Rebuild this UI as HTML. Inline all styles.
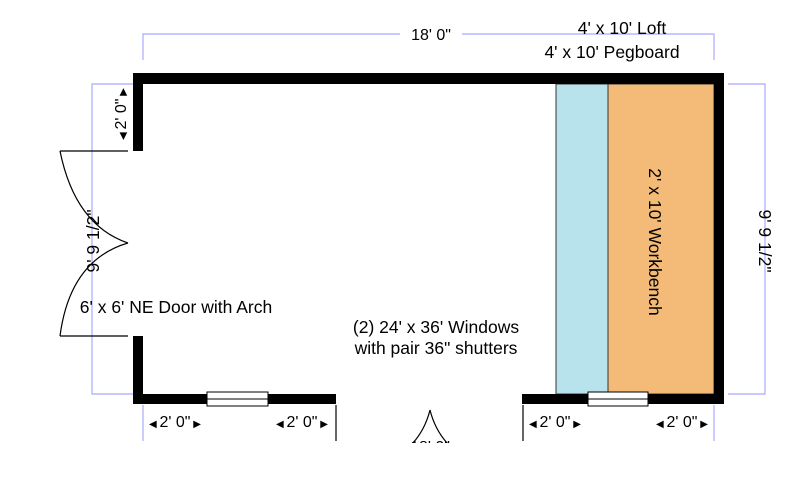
<!DOCTYPE html>
<html><head><style>body{margin:0;background:#fff}svg{display:block}</style></head><body>
<svg width="808" height="478" xmlns="http://www.w3.org/2000/svg" font-family="Liberation Sans, sans-serif" font-size="17.5">
<defs><clipPath id="c"><rect x="0" y="0" width="808" height="443"/></clipPath></defs>
<rect width="808" height="478" fill="#fff"/>
<g stroke="#a9a9ff" stroke-width="1.2" fill="none">
<polyline points="143,60 143,34 714,34 714,60"/>
<polyline points="728,84 765,84 765,394 728,394"/>
<polyline points="133,84 92,84 92,394 133,394"/>
<line x1="143" y1="405" x2="143" y2="441"/>
<line x1="714" y1="405" x2="714" y2="441"/>
</g>
<g stroke="#000" stroke-width="1.2"><line x1="336" y1="405" x2="336" y2="441"/><line x1="523" y1="405" x2="523" y2="441"/></g>
<rect x="400" y="25" width="62" height="18" fill="#fff"/>
<text x="431" y="40" text-anchor="middle" font-size="16">18' 0"</text>
<text x="622" y="34" text-anchor="middle">4' x 10' Loft</text>
<text x="612" y="58" text-anchor="middle">4' x 10' Pegboard</text>
<rect x="556" y="84" width="52" height="310" fill="#b9e3ec" stroke="#333" stroke-width="1"/>
<rect x="608" y="84" width="106" height="310" fill="#f3bb77" stroke="#333" stroke-width="1"/>
<text transform="translate(655,242) rotate(90)" text-anchor="middle" dy="6">2' x 10' Workbench</text>
<g fill="#000">
<rect x="133" y="73" width="591" height="11"/>
<rect x="133" y="73" width="10" height="78"/>
<rect x="133" y="336" width="10" height="68"/>
<rect x="133" y="394" width="203" height="10"/>
<rect x="522" y="394" width="202" height="10"/>
<rect x="714" y="73" width="10" height="331"/>
</g>
<g fill="#fff" stroke="#000" stroke-width="1">
<rect x="207" y="392" width="61" height="14"/><line x1="207" y1="399" x2="268" y2="399"/>
<rect x="588" y="392" width="60" height="14"/><line x1="588" y1="399" x2="648" y2="399"/>
</g>
<g stroke="#000" stroke-width="1.2" fill="none">
<line x1="60" y1="151" x2="128" y2="151"/>
<line x1="60" y1="336" x2="128" y2="336"/>
<path d="M60,151 Q75,225 128,243"/>
<path d="M60,336 Q70,260 128,243"/>
</g>
<text transform="translate(93,241) rotate(-90)" text-anchor="middle" dy="6">9' 9 1/2"</text>
<text transform="translate(765,241) rotate(90)" text-anchor="middle" dy="6">9' 9 1/2"</text>
<text transform="translate(120,114) rotate(-90)" text-anchor="middle" dy="6" font-size="16"><tspan font-size="10">◀ </tspan>2' 0"<tspan font-size="10"> ▶</tspan></text>
<text x="176" y="313" text-anchor="middle">6' x 6' NE Door with Arch</text>
<text x="436" y="333" text-anchor="middle">(2) 24' x 36' Windows</text>
<text x="436" y="354" text-anchor="middle">with pair 36" shutters</text>
<g font-size="16" text-anchor="middle">
<text x="175" y="427"><tspan font-size="10">◀ </tspan>2' 0"<tspan font-size="10"> ▶</tspan></text>
<text x="302" y="427"><tspan font-size="10">◀ </tspan>2' 0"<tspan font-size="10"> ▶</tspan></text>
<text x="555" y="427"><tspan font-size="10">◀ </tspan>2' 0"<tspan font-size="10"> ▶</tspan></text>
<text x="682" y="427"><tspan font-size="10">◀ </tspan>2' 0"<tspan font-size="10"> ▶</tspan></text>
</g>
<g clip-path="url(#c)">
<path d="M430,410 Q425,430 412,444 M430,410 Q435,430 448,444" stroke="#000" stroke-width="1.2" fill="none"/>
<text x="430" y="452" text-anchor="middle" font-size="16"><tspan font-size="10">◀</tspan>18' 0"<tspan font-size="10">▶</tspan></text>
</g>
</svg>
</body></html>
